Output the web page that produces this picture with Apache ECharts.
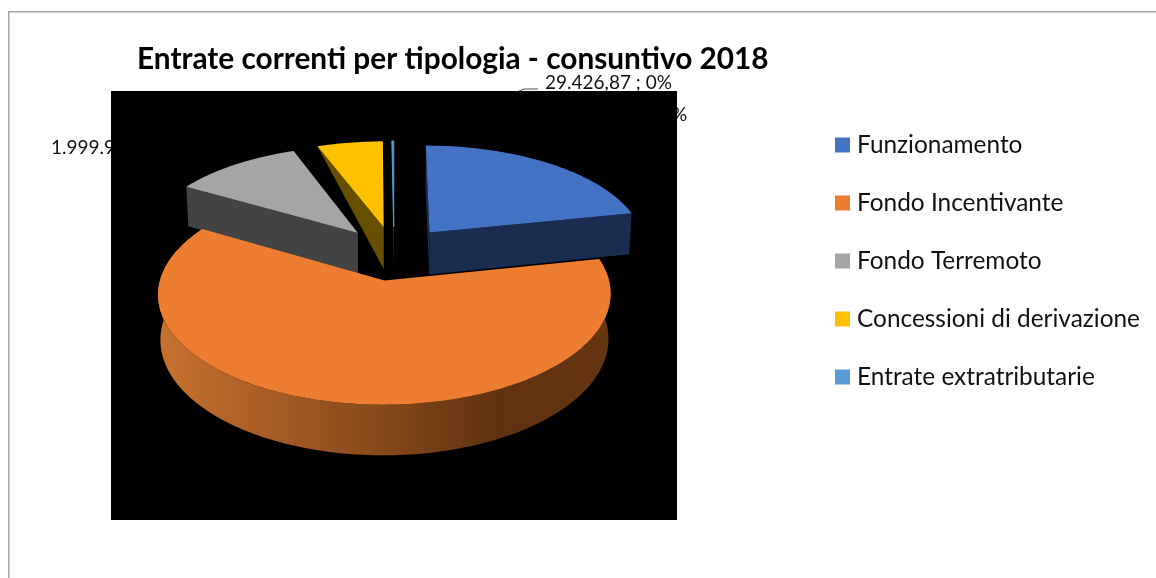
<!DOCTYPE html>
<html><head><meta charset="utf-8">
<style>html,body{margin:0;padding:0;background:#fff}#c{width:1156px;height:578px}</style>
<script src="https://cdn.jsdelivr.net/npm/echarts@6/dist/echarts.min.js"></script>
</head><body><div id="c"></div>
<script>
const categories = ['Funzionamento','Fondo Incentivante','Fondo Terremoto','Concessioni di derivazione','Entrate extratributarie'];
const values = [4000000, 11350000, 1999900, 1030000, 29426.87];
const colors = ['#4472C4','#ED7D31','#A5A5A5','#FFC000','#5B9BD5'];
const wallColors = ['#1A2C50','#8A4C1C','#434343','#665000','#254A6C'];
const FONT = 'Lato';

const total = values.reduce((a,b)=>a+b,0);
const starts = []; let acc = 0;
values.forEach(v=>{starts.push(acc/total*Math.PI*2); acc+=v;});

// 3D pie projection
const CX=394, CY=253, AX=217.5, BY=102, K=0.12, EXPLODE=0.265, DEPTH=43, NARROW=0.99;
function proj(X,Y,lower){
  const s=1/(1-K*Y);
  return [CX+X*AX*s*(lower?NARROW:1), CY+Y*BY*s+(lower?DEPTH*s:0)];
}
function renderSlice(params, api){
  const i=params.seriesIndex, v=api.value(0);
  const a0=starts[i], a1=a0+v/total*Math.PI*2, mid=(a0+a1)/2;
  const ox=EXPLODE*Math.sin(mid), oy=-EXPLODE*Math.cos(mid);
  const rim=(a,lower)=>proj(ox+Math.sin(a),oy-Math.cos(a),lower);
  const n=Math.max(2,Math.ceil((a1-a0)/0.02));
  const top=[],low=[];
  for(let j=0;j<=n;j++){const a=a0+(a1-a0)*j/n; top.push(rim(a,false)); low.push(rim(a,true));}
  const apexT=proj(ox,oy,false), apexB=proj(ox,oy,true);
  const children=[];
  const narrow=(a1-a0)<Math.PI/6;
  if(i===1){
    children.push({type:'polygon',shape:{points:top.concat(low.slice().reverse())},
      style:{fill:new echarts.graphic.LinearGradient(0,0,1,0,[
        {offset:0,color:'#C8722F'},{offset:0.25,color:'#A75C25'},{offset:0.5,color:'#84481A'},
        {offset:0.75,color:'#5F3211'},{offset:1,color:'#673611'}])}});
  } else {
    [[top[0],low[0]],[top[n],low[n]]].forEach(([t,b])=>{
      const pts = narrow ? [t,apexT,apexB] : [t,apexT,apexB,b];
      children.push({type:'polygon',shape:{points:pts},style:{fill:wallColors[i]}});
    });
  }
  children.push({type:'polygon',shape:{points:[apexT].concat(top)},
    style:{fill:colors[i],stroke:i===4?colors[i]:null,lineWidth:i===4?1:0}});
  return {type:'group',children};
}
const order=[4,3,2,0,1];
const chart=echarts.init(document.getElementById('c'),null,{renderer:'canvas'});
chart.setOption({
  animation:false,
  backgroundColor:'#fff',
  title:{text:'Entrate correnti per tipologia - consuntivo 2018',left:132,top:39,
    textStyle:{fontFamily:FONT,fontWeight:'bold',fontSize:29.8,color:'#000'}},
  legend:{orient:'vertical',left:830,top:126,itemWidth:15,itemHeight:15,itemGap:30,
    icon:'rect',selectedMode:false,data:categories,
    textStyle:{fontFamily:FONT,fontSize:24.4,color:'#111',lineHeight:28,padding:[0,0,0,2]}},
  graphic:{elements:[
    {type:'rect',left:8,top:11,shape:{width:1400,height:800},style:{fill:'#fff',stroke:'#A6A6A6',lineWidth:1.5},silent:true,z:-20},
    {type:'text',x:545,y:73,z:-10,style:{text:'29.426,87 ; 0%',font:'19px '+FONT,fill:'#111'}},
    {type:'text',x:672,y:105,z:-10,style:{text:'%',font:'19px '+FONT,fill:'#111'}},
    {type:'text',x:51,y:138,z:-10,style:{text:'1.999.9',font:'19px '+FONT,fill:'#111'}},
    {type:'polyline',z:-10,shape:{points:[[517,92],[524,89],[538,89]]},style:{stroke:'#555',lineWidth:1.2,fill:null}},
    {type:'rect',z:-5,x:111,y:91,shape:{width:566,height:429},style:{fill:'#000'},silent:true}
  ]},
  series:categories.map((name,i)=>({
    type:'custom',name,coordinateSystem:'none',clip:false,silent:true,
    z:2+order.indexOf(i),
    itemStyle:{color:colors[i]},
    renderItem:renderSlice,
    data:[[values[i]]]
  }))
});
</script></body></html>
